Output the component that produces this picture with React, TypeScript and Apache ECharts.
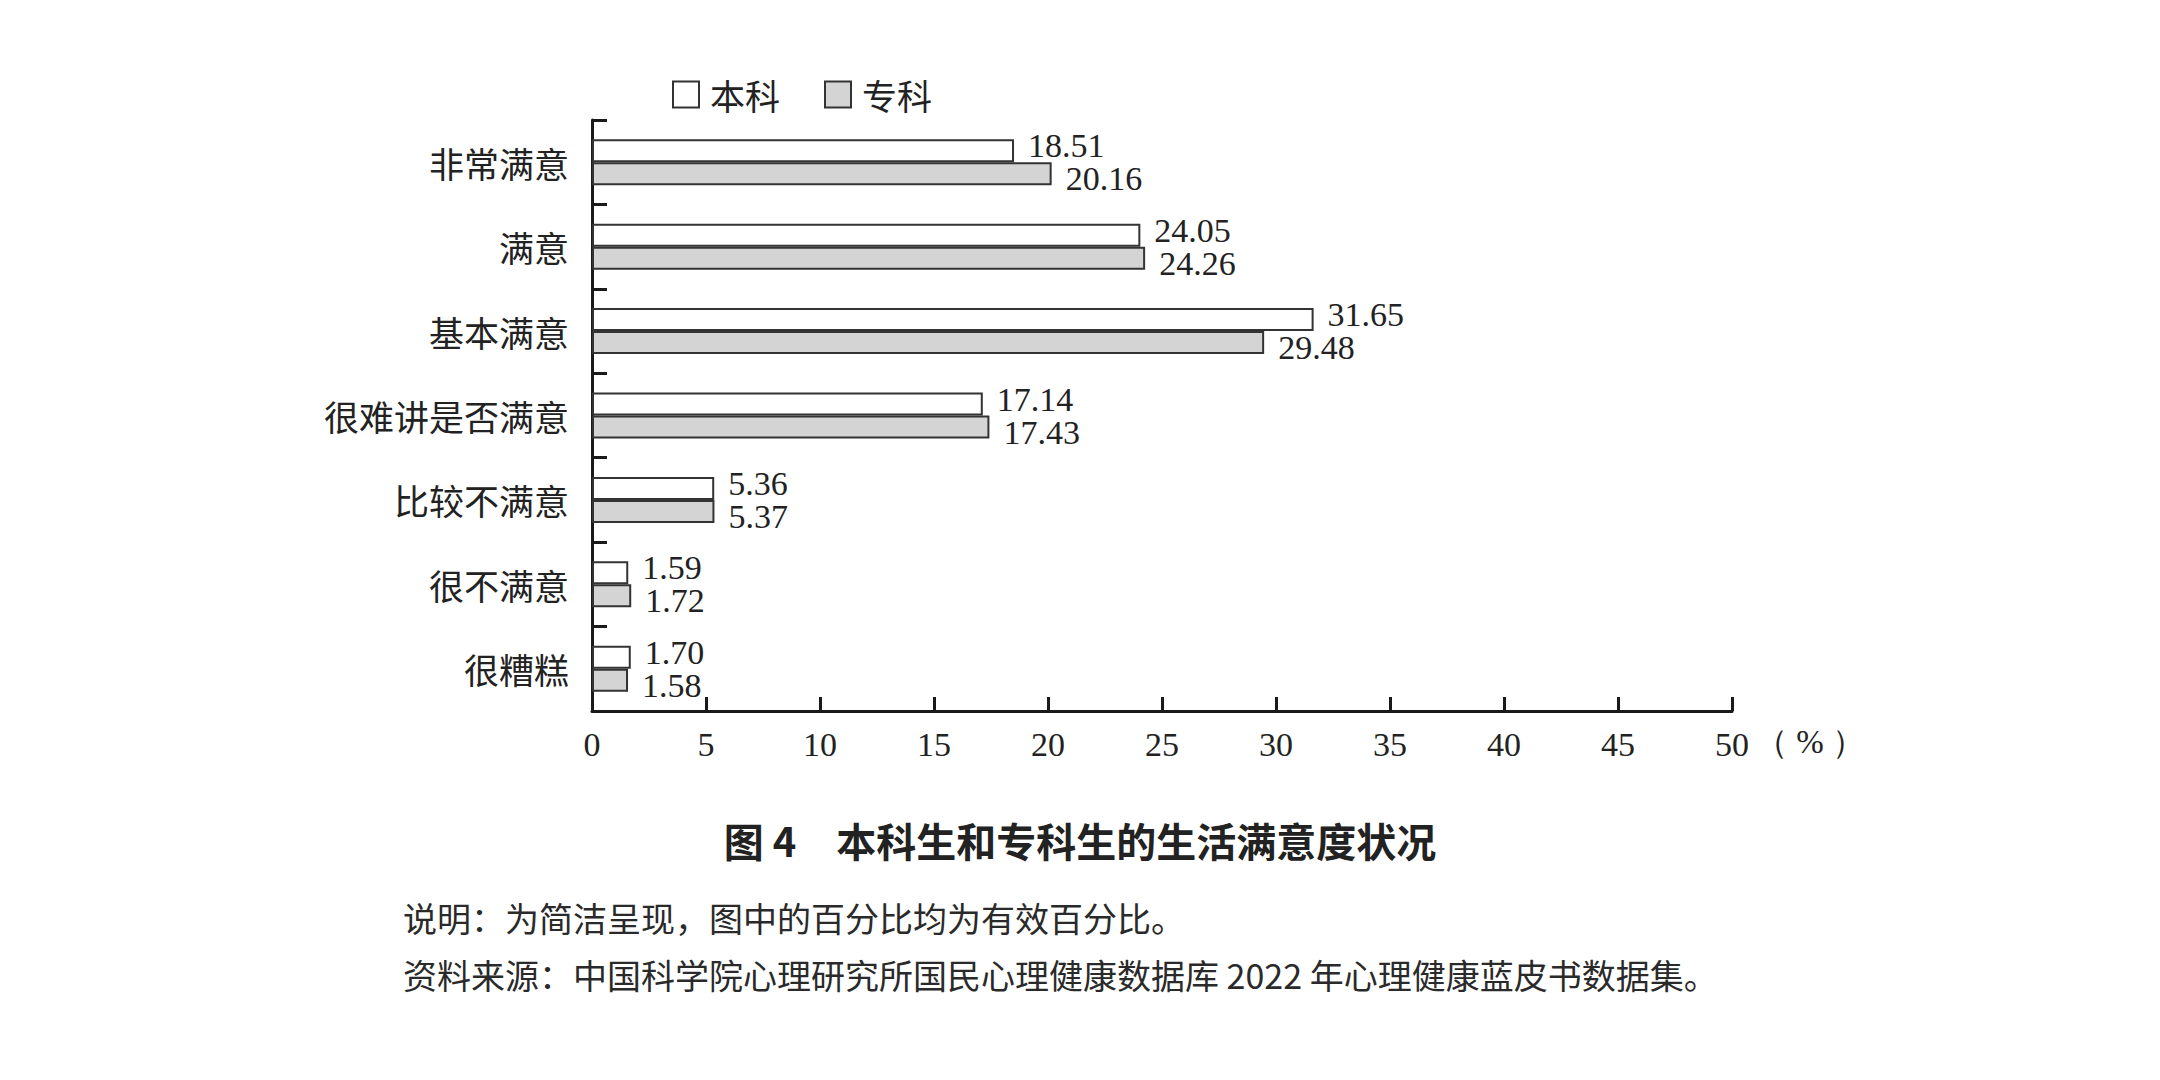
import React, { useEffect, useRef } from 'react';
import * as echarts from 'echarts';

const CATEGORIES = ['非常满意', '满意', '基本满意', '很难讲是否满意', '比较不满意', '很不满意', '很糟糕'];
const BENKE = [18.51, 24.05, 31.65, 17.14, 5.36, 1.59, 1.7];
const ZHUANKE = [20.16, 24.26, 29.48, 17.43, 5.37, 1.72, 1.58];
const SERIES_NAMES = ['本科', '专科'];

const TITLE = '图 4\u3000本科生和专科生的生活满意度状况';
const NOTE_1 = '说明：为简洁呈现，图中的百分比均为有效百分比。';
const NOTE_2 = '资料来源：中国科学院心理研究所国民心理健康数据库 2022 年心理健康蓝皮书数据集。';

const COLORS = {
  TEXT: '#222',
  AXIS: '#1a1a1a',
  BORDER: '#333',
  WHITE: '#ffffff',
  GRAY: '#d4d4d4',
};

const CJK = '"Noto Sans CJK SC", sans-serif';
const SERIF = '"Liberation Serif", "DejaVu Serif", serif';

const App: React.FC = () => {
  const divEL = useRef<HTMLDivElement>(null);

  useEffect(() => {
    const instance = echarts.init(divEL.current as any, null, { renderer: 'svg' });

    const barLabel = (dy: number) => ({
      show: true,
      position: 'right' as const,
      distance: 14,
      offset: [0, dy],
      fontSize: 34,
      fontFamily: SERIF,
      color: COLORS.TEXT,
      formatter: (p: any) => Number(p.value).toFixed(2),
    });

    const option: echarts.EChartsOption = {
      animation: false,
      backgroundColor: '#fff',
      title: {
        text: TITLE,
        left: 'center',
        top: 815,
        textStyle: {
          fontFamily: CJK,
          fontSize: 40,
          fontWeight: 'bold',
          color: COLORS.TEXT,
        },
      },
      legend: {
        left: 667,
        top: 72,
        itemWidth: 26,
        itemHeight: 26,
        itemGap: 44,
        icon: 'rect',
        textStyle: {
          fontFamily: CJK,
          fontSize: 35,
          color: COLORS.TEXT,
          padding: [0, 0, 0, 6],
        },
        data: [
          { name: SERIES_NAMES[0], itemStyle: { color: COLORS.WHITE, borderColor: COLORS.BORDER, borderWidth: 2 } },
          { name: SERIES_NAMES[1], itemStyle: { color: COLORS.GRAY, borderColor: COLORS.BORDER, borderWidth: 2 } },
        ],
      },
      grid: {
        left: 592,
        right: 428,
        top: 120,
        bottom: 369,
        containLabel: false,
      },
      xAxis: {
        type: 'value',
        min: 0,
        max: 50,
        interval: 5,
        name: '（ % ）',
        nameLocation: 'end',
        nameGap: 22,
        nameTextStyle: {
          fontFamily: SERIF,
          fontSize: 33,
          color: COLORS.TEXT,
          verticalAlign: 'top',
          padding: [14, 0, 0, 0],
        },
        splitLine: { show: false },
        axisLine: { show: true, lineStyle: { color: COLORS.AXIS, width: 3 } },
        axisTick: { show: true, inside: true, length: 14, lineStyle: { color: COLORS.AXIS, width: 3 } },
        axisLabel: {
          margin: 16,
          fontFamily: SERIF,
          fontSize: 34,
          color: COLORS.TEXT,
        },
      },
      yAxis: {
        type: 'category',
        inverse: true,
        data: CATEGORIES,
        axisLine: { show: true, lineStyle: { color: COLORS.AXIS, width: 3 } },
        axisTick: { show: true, inside: true, length: 15, lineStyle: { color: COLORS.AXIS, width: 3 } },
        axisLabel: {
          margin: 23,
          fontFamily: CJK,
          fontSize: 35,
          color: COLORS.TEXT,
        },
      },
      series: [
        {
          name: SERIES_NAMES[0],
          type: 'bar',
          data: BENKE,
          barWidth: 23,
          barGap: '0%',
          itemStyle: { color: COLORS.WHITE, borderColor: COLORS.BORDER, borderWidth: 2 },
          label: barLabel(-5),
        },
        {
          name: SERIES_NAMES[1],
          type: 'bar',
          data: ZHUANKE,
          barWidth: 23,
          barGap: '0%',
          itemStyle: { color: COLORS.GRAY, borderColor: COLORS.BORDER, borderWidth: 2 },
          label: barLabel(5),
        },
      ],
      graphic: [
        {
          type: 'text',
          left: 403,
          top: 900,
          style: { text: NOTE_1, fontFamily: CJK, fontSize: 34, fill: '#2a2a2a' },
        },
        {
          type: 'text',
          left: 403,
          top: 957,
          style: { text: NOTE_2, fontFamily: CJK, fontSize: 34, fill: '#2a2a2a' },
        },
      ],
    };

    instance.setOption(option);

    return () => {
      instance.dispose();
    };
  }, []);

  return (
    <div
      ref={divEL}
      style={{ position: 'absolute', left: 0, top: 0, width: 2160, height: 1080 }}
    ></div>
  );
};

export default App;
